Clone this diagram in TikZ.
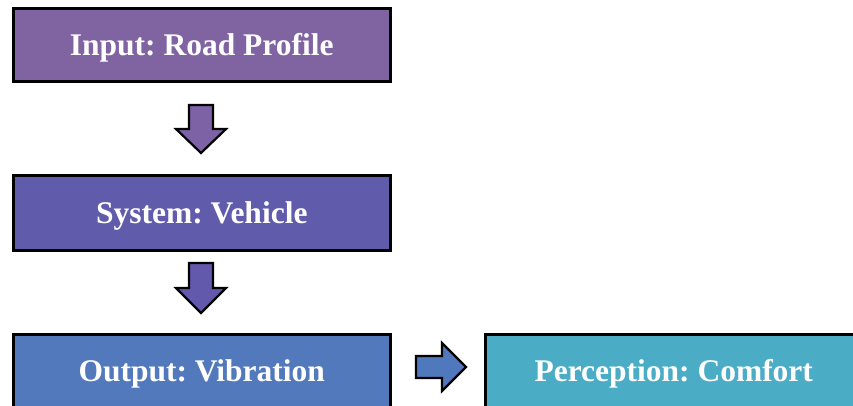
\documentclass[tikz,border=0pt]{standalone}
\usepackage{fontspec}
\setmainfont{Liberation Serif}
\frenchspacing
\definecolor{cA}{HTML}{8064A2}
\definecolor{cB}{HTML}{615BAB}
\definecolor{cC}{HTML}{5179BB}
\definecolor{cD}{HTML}{4BACC6}
\definecolor{aA}{HTML}{7E62A6}
\definecolor{aB}{HTML}{6259AD}
\definecolor{aC}{HTML}{4F78BD}
\newcommand{\boxtxt}[1]{\raisebox{-10.5pt}[0pt][0pt]{#1}}
\begin{document}
\begin{tikzpicture}[x=1pt,y=-1pt,
  boxst/.style={draw=black,line width=3pt,inner sep=0pt,font=\fontsize{31.5}{36}\selectfont\bfseries,text=white},
  arrst/.style={draw=black,line width=2.2pt,line join=miter}]
\useasboundingbox (0,0) rectangle (853,406);
\node[boxst,fill=cA,minimum width=377pt,minimum height=73pt] (b1) at (201.75,44.75) {\boxtxt{Input: Road Profile}};
\node[boxst,fill=cB,minimum width=377pt,minimum height=74pt] (b2) at (201.75,213) {\boxtxt{System: Vehicle}};
\node[boxst,fill=cC,minimum width=377pt,minimum height=74pt] (b3) at (201.75,371) {\boxtxt{Output: Vibration}};
\node[boxst,fill=cD,minimum width=376pt,minimum height=74pt] (b4) at (673.75,371) {\boxtxt{Perception: Comfort}};
% down arrow 1
\coordinate (a1) at (201,105);
\draw[arrst,fill=aA] (a1) ++(-12,0) -- ++(24,0) -- ++(0,24) -- ++(13,0) -- (201,153) -- (176,129) -- (189,129) -- cycle;
% down arrow 2
\coordinate (a2) at (201,263);
\draw[arrst,fill=aB] (a2) ++(-12,0) -- ++(24,0) -- ++(0,25) -- ++(13,0) -- (201,313) -- (176,288) -- (189,288) -- cycle;
% right arrow
\coordinate (a3) at (416,356);
\draw[arrst,fill=aC] (a3) -- (442,356) -- (442,343) -- (466,367) -- (442,391) -- (442,378) -- (416,378) -- cycle;
\end{tikzpicture}
\end{document}
